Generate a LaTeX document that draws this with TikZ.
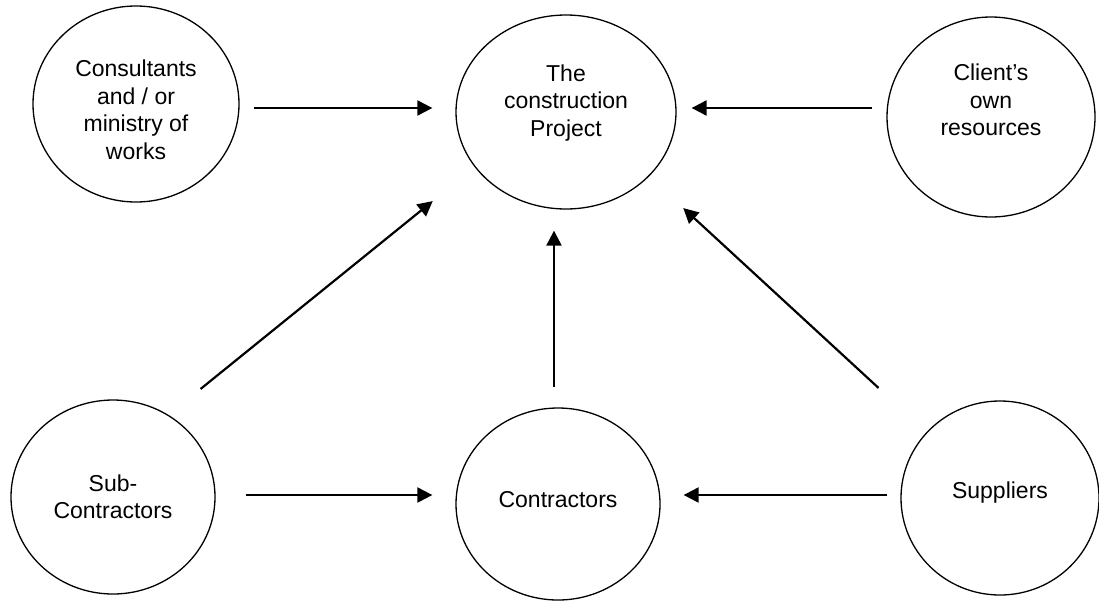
\documentclass[tikz,border=0pt]{standalone}
\usepackage{fontspec}
\setmainfont{Liberation Sans}
\usetikzlibrary{shapes.geometric,arrows.meta}

\begin{document}
\begin{tikzpicture}[x=1pt,y=1pt,
  party/.style={draw=black, line width=1.3pt, ellipse, inner sep=0pt},
  caption/.style={align=center, font=\fontsize{23}{27.5}\selectfont, inner sep=0pt},
  flow/.style={line width=2.2pt, -{Triangle[length=15pt,width=15pt]}}]
  \useasboundingbox (0,0) rectangle (1099,-600);

  % parties
  \node[party, minimum width=206pt, minimum height=196pt] (cons)   at (136,-104) {};
  \node[party, minimum width=220pt, minimum height=194pt] (proj)   at (566,-112) {};
  \node[party, minimum width=208pt, minimum height=200pt] (client) at (991,-117) {};
  \node[party, minimum width=204pt, minimum height=194pt] (sub)    at (113,-497) {};
  \node[party, minimum width=204pt, minimum height=192pt] (contr)  at (558,-504) {};
  \node[party, minimum width=198pt, minimum height=194pt] (supp)   at (1000,-498) {};

  % captions
  \node[caption] (consT)   at (136,-110) {Consultants\\and / or\\ministry of\\works};
  \node[caption] (projT)   at (566,-103) {The\\construction\\Project};
  \node[caption] (clientT) at (991,-100) {Client’s\\own\\resources};
  \node[caption] (subT)    at (113,-497) {Sub-\\Contractors};
  \node[caption] (contrT)  at (558,-500) {Contractors};
  \node[caption] (suppT)   at (1000,-493) {Suppliers};

  % flows into the project
  \draw[flow] ([shift={(14,-4)}]cons.east)   -- ([shift={(-23,4)}]proj.west);
  \draw[flow] ([shift={(-14,9)}]client.west) -- ([shift={(15,4)}]proj.east);
  \draw[flow] ([shift={(15,39)}]sub.north east)   -- ([shift={(-55,-20)}]proj.south west);
  \draw[flow] ([shift={(-4,20)}]contr.north)      -- ([shift={(-12,-21)}]proj.south);
  \draw[flow] ([shift={(-51,41)}]supp.north west) -- ([shift={(39,-27)}]proj.south east);

  % flows into the contractors
  \draw[flow] ([shift={(30,2)}]sub.east)    -- ([shift={(-23,9)}]contr.west);
  \draw[flow] ([shift={(-13,3)}]supp.west)  -- ([shift={(23,9)}]contr.east);
\end{tikzpicture}
\end{document}
